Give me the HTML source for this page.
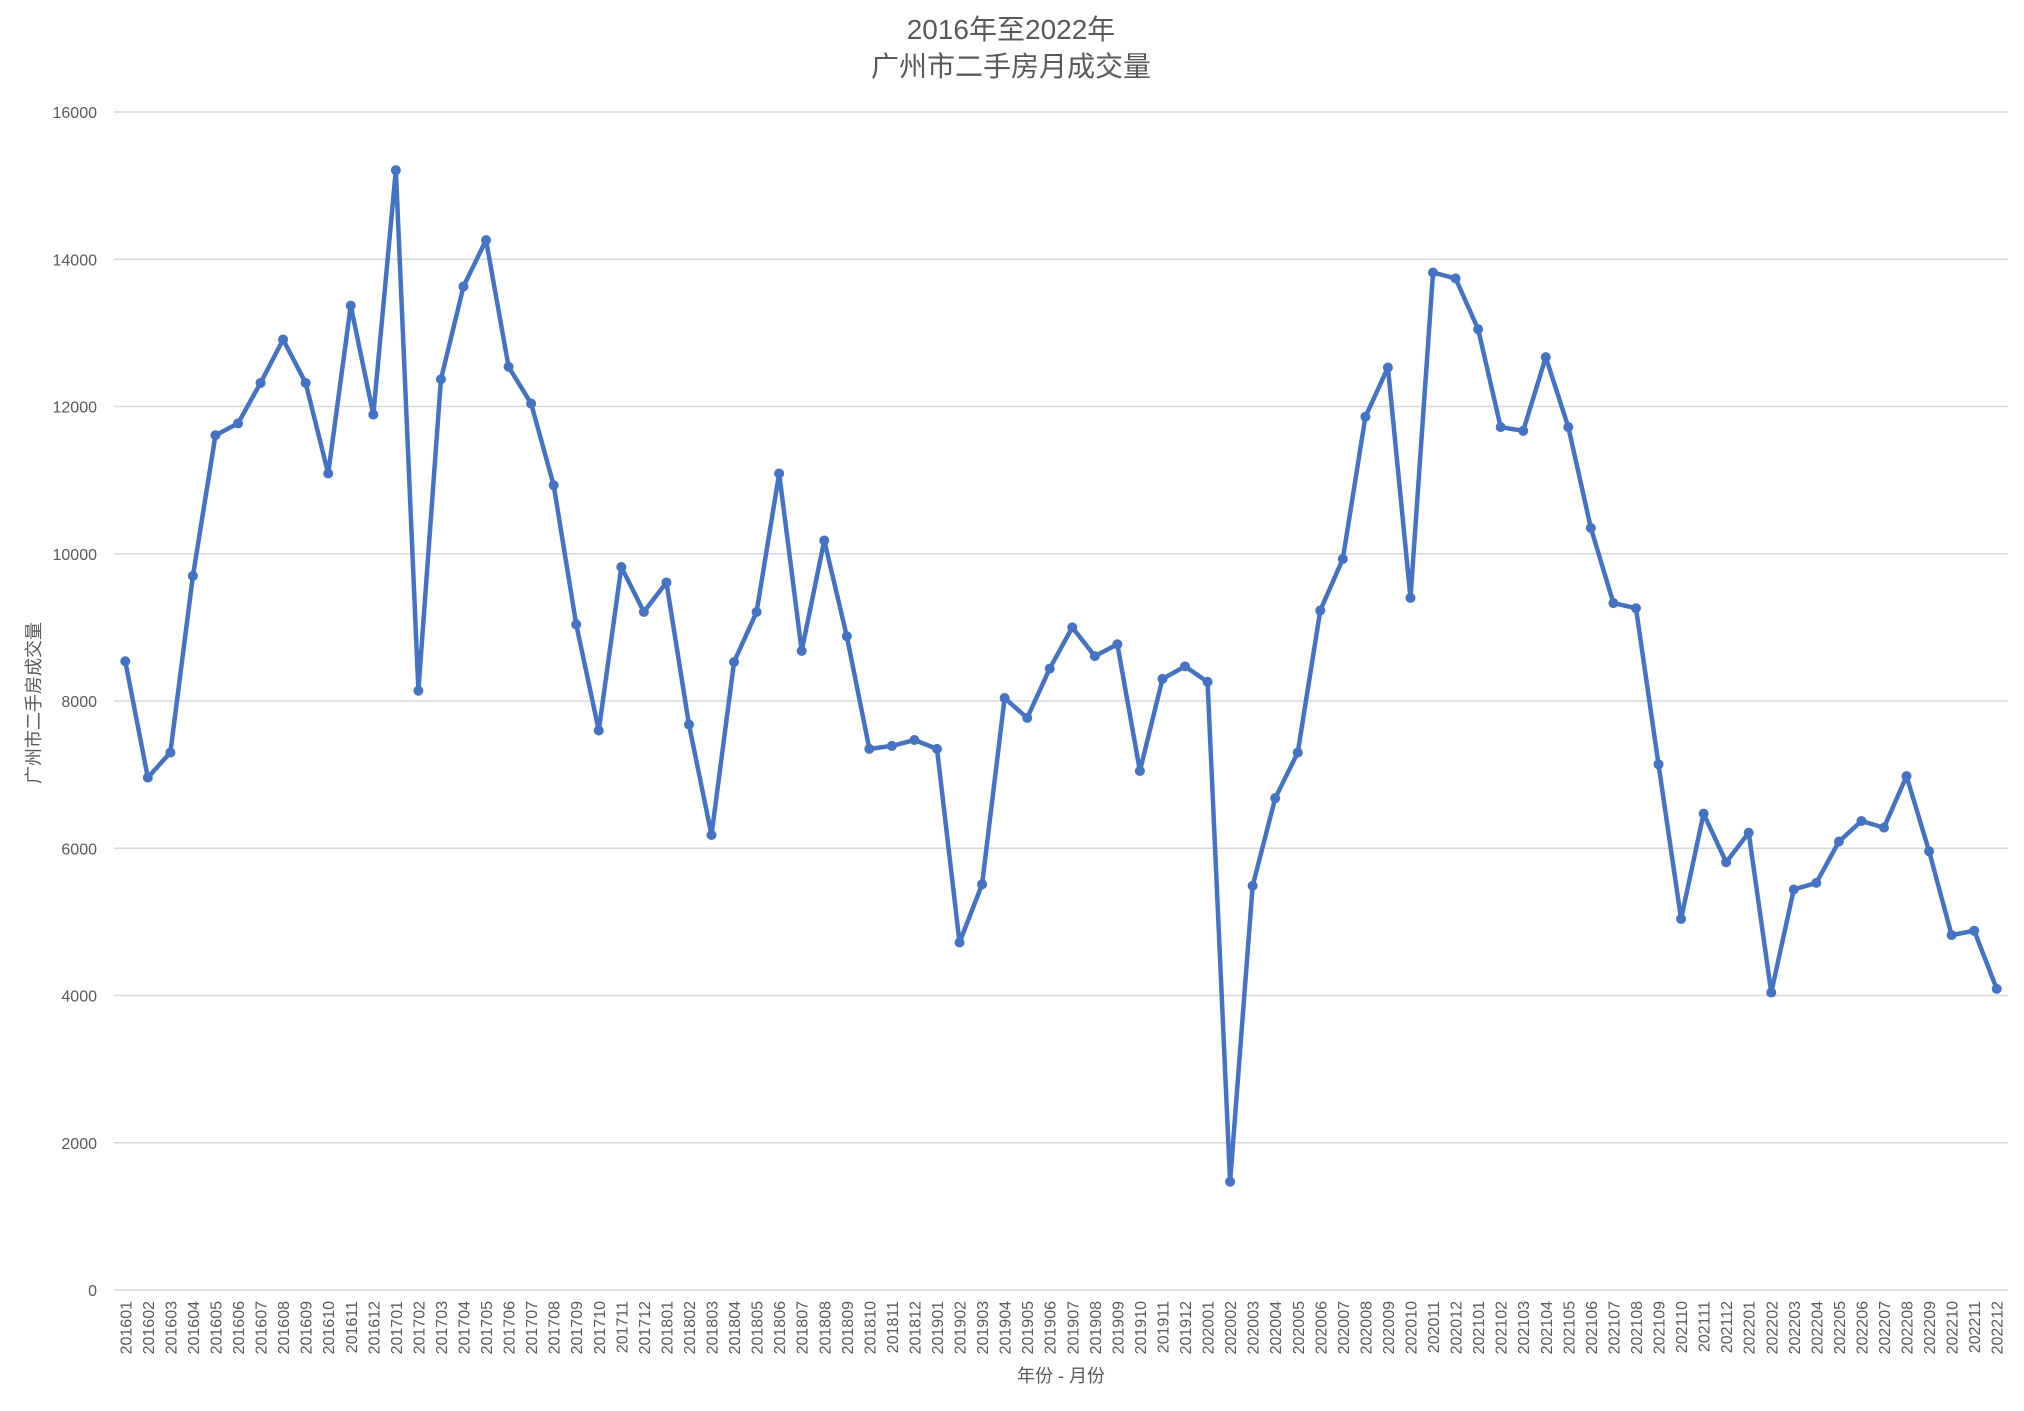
<!DOCTYPE html>
<html><head><meta charset="utf-8"><style>
html,body{margin:0;padding:0;background:#fff;}
svg text{font-family:"Liberation Sans","Noto Sans CJK SC",sans-serif;fill:#595959;}
</style></head><body>
<svg id="chart" width="2024" height="1406" xmlns="http://www.w3.org/2000/svg">
<rect width="2024" height="1406" fill="#fff"/>
<text x="1011" y="39" font-size="28" text-anchor="middle">2016年至2022年</text>
<text x="1011" y="76" font-size="28" text-anchor="middle">广州市二手房月成交量</text>
<text transform="translate(40,703) rotate(-90)" font-size="18" text-anchor="middle">广州市二手房成交量</text>
<text x="1061" y="1382" font-size="18" text-anchor="middle">年份 - 月份</text>
<g id="grid"></g><g id="xlabels"></g><g id="series"></g>
</svg>
<script>
const categories=[];
for(let y=2016;y<=2022;y++)for(let m=1;m<=12;m++)categories.push(''+y+(m<10?'0':'')+m);
const values=[8540,6960,7300,9700,11610,11770,12320,12910,12320,11090,13370,11890,
15210,8140,12370,13630,14260,12540,12040,10930,9040,7600,9820,9210,
9610,7680,6180,8530,9210,11090,8680,10180,8880,7350,7390,7470,
7350,4720,5510,8040,7770,8440,9000,8610,8770,7050,8300,8470,
8260,1470,5490,6680,7300,9230,9930,11860,12530,9400,13820,13740,
13050,11720,11670,12670,11720,10350,9330,9260,7140,5040,6470,5810,
6210,4040,5440,5530,6090,6370,6280,6980,5960,4820,4880,4090];
const yTicks=[0,2000,4000,6000,8000,10000,12000,14000,16000];
const NS='http://www.w3.org/2000/svg';
const L=114,R=2008,T=112,B=1290,yMax=16000;
const yPos=v=>B-(v/yMax)*(B-T);
const step=(R-L)/categories.length;
const xPos=i=>L+step*(i+0.5);
const grid=document.getElementById('grid');
yTicks.forEach(t=>{
 const ln=document.createElementNS(NS,'line');
 
 
 ln.setAttribute('x1',L);ln.setAttribute('x2',R);ln.setAttribute('y1',yPos(t));ln.setAttribute('y2',yPos(t));
 ln.setAttribute('stroke','#d9d9d9');ln.setAttribute('stroke-width','1.5');
 grid.appendChild(ln);
 const tx=document.createElementNS(NS,'text');
 
 
 tx.setAttribute('x',97);tx.setAttribute('y',yPos(t)+6);tx.setAttribute('font-size','16');tx.setAttribute('text-anchor','end');
 tx.textContent=t;grid.appendChild(tx);
});
const xl=document.getElementById('xlabels');
categories.forEach((c,i)=>{
 const tx=document.createElementNS(NS,'text');
 
 
 tx.setAttribute('transform','translate('+(xPos(i)+6)+',1301) rotate(-90)');
 tx.setAttribute('font-size','16');tx.setAttribute('text-anchor','end');
 tx.textContent=c;xl.appendChild(tx);
});
const s=document.getElementById('series');
const pl=document.createElementNS(NS,'polyline');


pl.setAttribute('points',values.map((v,i)=>xPos(i)+','+yPos(v)).join(' '));
pl.setAttribute('fill','none');pl.setAttribute('stroke','#4472C4');pl.setAttribute('stroke-width','4.5');pl.setAttribute('stroke-linejoin','round');
s.appendChild(pl);
values.forEach((v,i)=>{
 const c=document.createElementNS(NS,'circle');
 
 
 c.setAttribute('cx',xPos(i));c.setAttribute('cy',yPos(v));c.setAttribute('r','5');c.setAttribute('fill','#4472C4');
 s.appendChild(c);
});
</script>
</body></html>
